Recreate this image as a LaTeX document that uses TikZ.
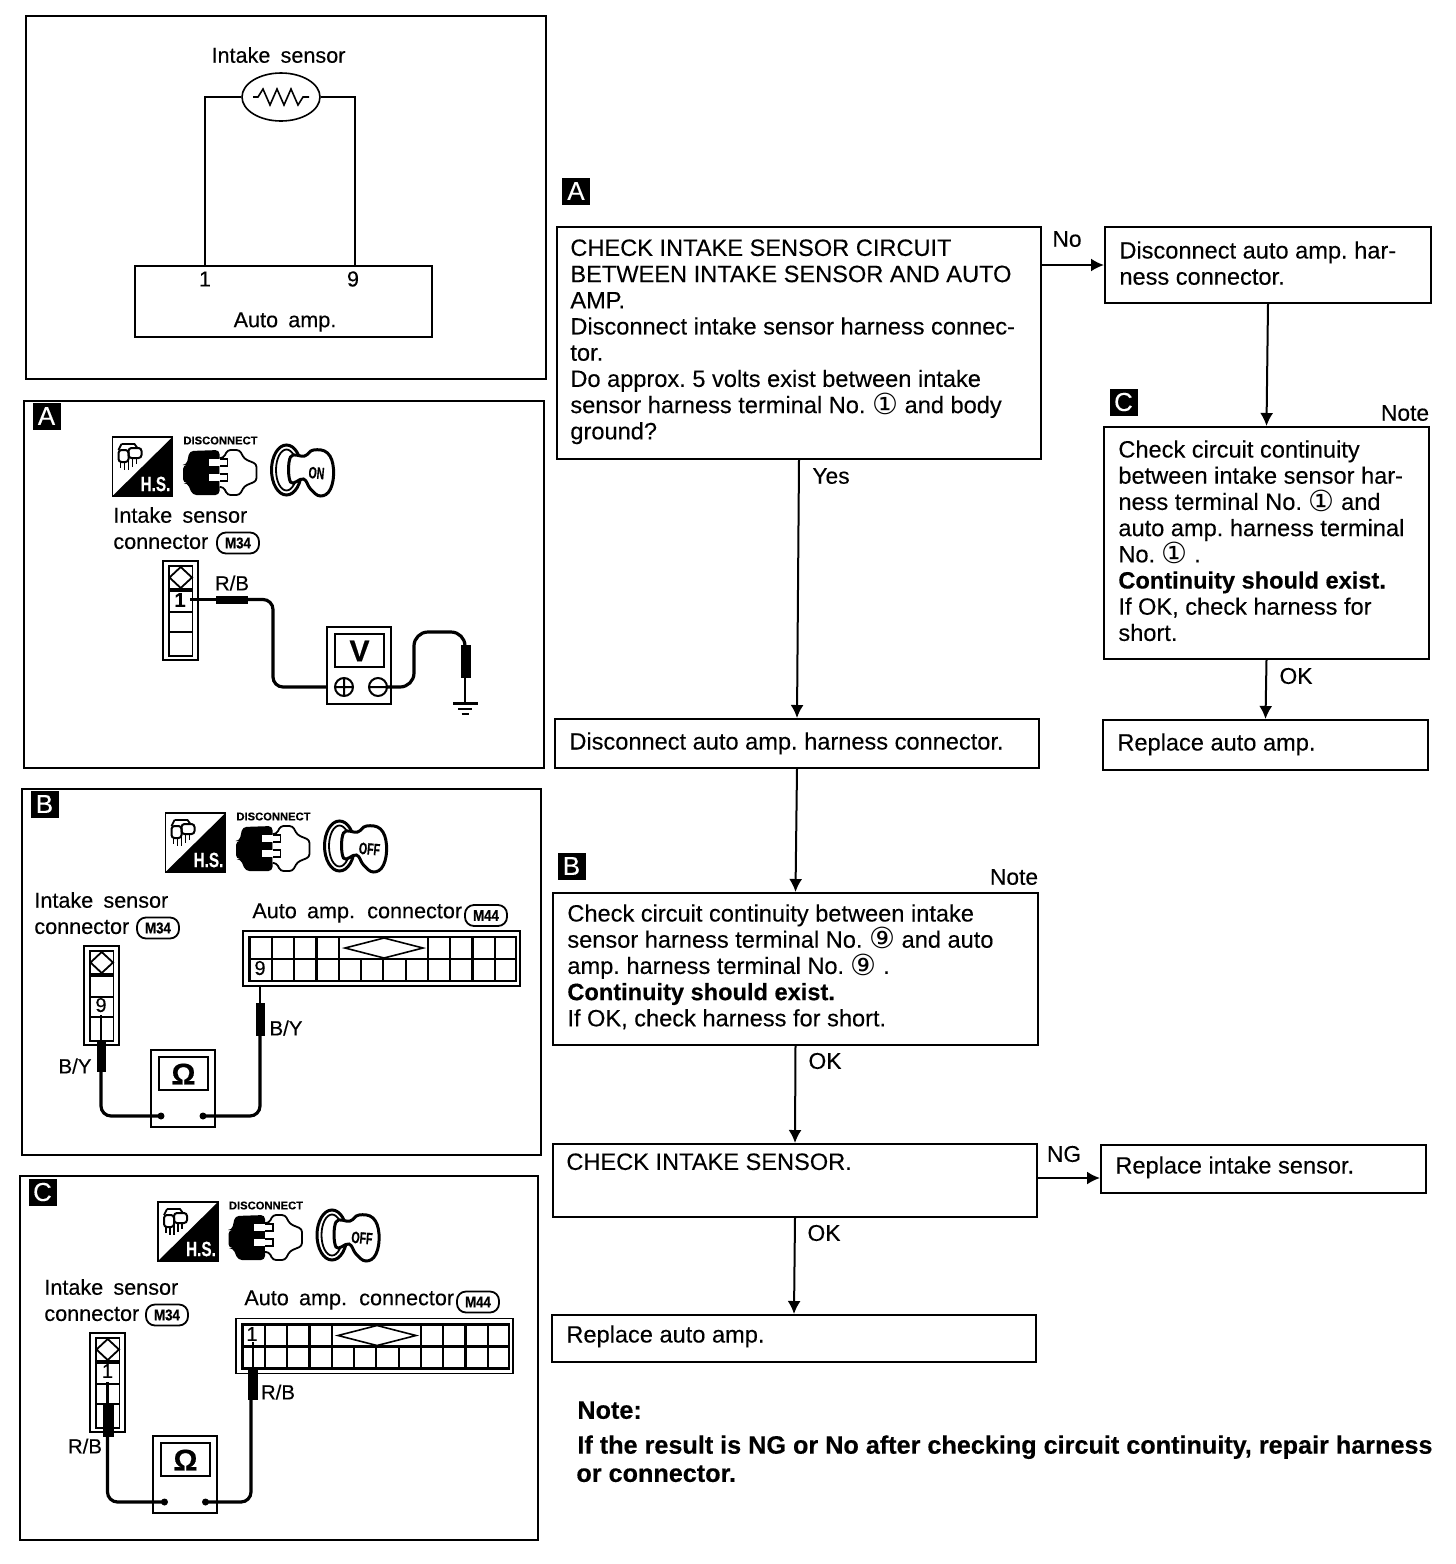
\documentclass[tikz,border=0pt]{standalone}
\usepackage{fontspec}
\usepackage{graphicx}
\usetikzlibrary{arrows.meta,fit,shapes.geometric}
\setmainfont{Liberation Sans}[UprightFeatures={FakeBold=0.2},BoldFeatures={FakeBold=0.4}]
\newfontfamily\circfont{DejaVu Sans}
\newfontfamily\widefont[WordSpace=1.7,FakeBold=0.3]{Liberation Sans}
\newcommand{\cn}[1]{{\circfont\fontsize{14.5}{13}\selectfont\raisebox{-.6pt}{#1}}}
\tikzset{
  flowbox/.style={draw,line width=1pt,inner sep=0pt,fit={#1}},
  panel/.style={draw,line width=1.1pt,inner sep=0pt,fit={#1}},
  ftext/.style={inner sep=0pt,anchor=north west,align=left,font=\fontsize{11.8}{13.1}\selectfont\frenchspacing},
  flab/.style={inner sep=0pt,font=\fontsize{11.4}{13.1}\selectfont},
  lbl/.style={inner sep=0pt,font=\fontsize{10.8}{12}\selectfont\widefont},
  wlab/.style={inner sep=0pt,font=\fontsize{10.2}{11}\selectfont},
  tag/.style={fill=black,text=white,inner sep=0pt,minimum width=14pt,minimum height=13.5pt,font=\fontsize{13}{13}\selectfont},
  badge/.style={draw,line width=.9pt,rounded corners=4.5pt,inner sep=0pt,minimum width=21pt,minimum height=10.5pt,font=\fontsize{7.8}{8}\selectfont\bfseries},
  arr/.style={line width=1pt,-{Latex[length=6.5pt,width=6.5pt]}},
  wire/.style={line width=1.6pt,rounded corners=5pt},
  thinw/.style={line width=1.2pt},
  pics/icons/.style={code={
    \draw[line width=.9pt] (0,0) rectangle (60,59);
    \fill (60,0) -- (60,59) -- (0,59) -- cycle;
    \node[text=white,inner sep=0pt,font=\fontsize{9}{9}\selectfont\bfseries] at (43,47) {\scalebox{.85}[1.15]{H.S.}};
    \draw[line width=1pt,rounded corners=1.5pt] (6,13) rectangle (16,25);
    \draw[line width=1pt,rounded corners=1.5pt] (16,11) rectangle (29,21);
    \draw[line width=.9pt] (9,7) -- (22,7) -- (25,11) (9,7) -- (6,13);
    \draw[line width=.7pt] (8,25) -- (8,31) (12,25) -- (12,33) (16,21) -- (16,33) (20,21) -- (20,30) (24,21) -- (24,27);
    \node[inner sep=0pt,font=\fontsize{5.6}{6}\selectfont\bfseries] at (108,3.5) {DISCONNECT};
    \fill[rounded corners=2pt] (70.5,28) -- (74,28) -- (77,14) -- (107,13) -- (107,58) -- (80,58) -- (75,46) -- (70.5,46) -- cycle;
    \draw[line width=.9pt,fill=white,rounded corners=1.5pt] (107,21) -- (111,21) -- (115,13) -- (127,13) -- (132,22) -- (144,27) -- (144,44) -- (132,49) -- (127,58) -- (115,58) -- (111,50) -- (107,50);
    \fill[white] (96,22) rectangle (107,29);
    \fill[white] (96,37) rectangle (107,44);
    \draw[line width=.9pt] (107,22) -- (115,22) -- (115,29) -- (107,29) (107,37) -- (115,37) -- (115,44) -- (107,44);
    \draw[line width=1.5pt] (174,33) ellipse [x radius=15,y radius=25];
    \draw[line width=.9pt] (174,33) ellipse [x radius=10.5,y radius=20.5];
    \draw[line width=1.5pt,fill=white] plot[smooth cycle,tension=.7] coordinates {(178,20) (192,19) (201,13) (215,16) (221,32) (218,52) (208,59) (198,52) (191,42) (178,45)};
    \node[inner sep=0pt,font=\fontsize{7.5}{8}\selectfont\bfseries,rotate=-5] at (204,36) {\scalebox{.7}[1.1]{#1}};
  }},
  pics/sensorconn/.style={code={
    \draw[line width=.9pt] (0,0) rectangle (35,99);
    \draw[line width=.9pt] (6,5) rectangle (29.5,95);
    \draw[line width=.9pt] (6,28) -- (29.5,28) (6,30) -- (29.5,30) (6,51) -- (29.5,51) (6,71) -- (29.5,71);
    \draw[line width=.9pt] (17.7,6) -- (29,16.5) -- (17.7,27) -- (6.5,16.5) -- cycle;
  }},
  pics/ampconn/.style={code={
    \draw[line width=.9pt] (0,0) rectangle (277,55);
    \draw[line width=1.1pt] (6.5,6) rectangle (273,50);
    \draw[line width=1.1pt] (6.5,28) -- (273,28);
    \foreach \x in {28.8,51.1,73.4,95.7,184.9,207.2,229.5,251.8} \draw[line width=1.1pt] (\x,6) -- (\x,50);
    \foreach \x in {118,140.3,162.6} \draw[line width=1.1pt] (\x,28) -- (\x,50);
    \draw[line width=.8pt,fill=white] (102,17) -- (141,7) -- (180,17) -- (141,27) -- cycle;
  }},
  pics/meter/.style={code={
    \draw[line width=1.1pt,fill=white] (0,0) rectangle (64,77);
    \draw[line width=1.1pt] (8,7) rectangle (57,40);
    \node[inner sep=0pt,font=\fontsize{15}{15}\selectfont\bfseries] at (32.5,24) {#1};
  }},
}
\begin{document}
\begin{tikzpicture}[x=.5pt,y=-.5pt]
\useasboundingbox (0,0) rectangle (1456,1564);
\fill[white] (0,0) rectangle (1456,1564);

% ---------- circuit panel
\node[panel={(26,16)(546,379)}] (p0) {};
\node[lbl] (sensname) at (278.5,55) {Intake sensor};
\node[draw,ellipse,line width=.8pt,minimum width=39pt,minimum height=24pt,inner sep=0pt] (sens) at (281,97) {};
\node[draw,line width=.8pt,inner sep=0pt,fit={(135,266)(432,337)}] (amp) {};
\coordinate (t1) at (205,266);
\coordinate (t9) at (355,266);
\draw[line width=.8pt] (sens.west) -| (t1);
\draw[line width=.8pt] (sens.east) -| (t9);
\draw[line width=.8pt] (253,97) -- (258,97) -- (263,89) -- (270,105) -- (277,89) -- (284,105) -- (291,89) -- (298,105) -- (303,97) -- (309,97);
\node[lbl] (n1) at (205,279) {1};
\node[lbl] (n9) at (353,279) {9};
\node[lbl] (ampname) at (285,322) {Auto amp.};

% ---------- panel A
\node[panel={(24,401)(544,768)}] (pa) {};
\node[tag] (ta) at (46.5,416) {A};
\pic (ia) at (112.5,437) {icons=ON};
\node[lbl,anchor=west] (al1) at (113,515) {Intake sensor};
\node[lbl,anchor=west] (al2) at (113,542) {connector};
\node[badge] (am34) at (238,543) {\scalebox{.85}[1]{M34}};
\pic (sa) at (163,561) {sensorconn};
\node[font=\fontsize{10}{10}\selectfont\bfseries,inner sep=0pt] (a1) at (180,600) {1};
\draw[thinw] (190,599.5) -- (216,599.5);
\fill (216,595.5) rectangle (248,604);
\draw[wire] (248,599.5) -- (273,599.5) -- (273,687) -- (335,687);
\pic (ma) at (327,627) {meter=V};
\draw[line width=1pt] (344,687) circle [radius=9] (335,687) -- (353,687) (344,678) -- (344,696);
\draw[line width=1pt] (378,687) circle [radius=9] (369,687) -- (387,687);
\draw[wire,rounded corners=7pt] (387,687) -- (414,687) -- (414,632) -- (465,632) -- (465,650);
\fill (461,645) rectangle (471,678);
\draw[thinw] (465,678) -- (465,703);
\draw[line width=1.1pt] (453,703.5) -- (478,703.5);
\draw[line width=1.2pt] (458,709) -- (472,709);
\draw[line width=1.2pt] (461.5,714) -- (469,714);
\node[wlab] (arb) at (232,583) {R/B};

% ---------- panel B
\node[panel={(22,789)(541,1155)}] (pb) {};
\node[tag] (tb) at (44.5,804) {B};
\pic (ib) at (165.5,813) {icons=OFF};
\node[lbl,anchor=west] (bl1) at (34,900) {Intake sensor};
\node[lbl,anchor=west] (bl2) at (34,927) {connector};
\node[badge] (bm34) at (158,928) {\scalebox{.85}[1]{M34}};
\node[lbl,anchor=west] (bl3) at (252,913) {Auto amp. connector};
\node[badge] (bm44) at (486,915.5) {\scalebox{.85}[1]{M44}};
\pic (sb) at (84,946) {sensorconn};
\node[font=\fontsize{10}{10}\selectfont,inner sep=0pt] (b9) at (101,1005) {9};
\pic (cb) at (243,931) {ampconn};
\node[font=\fontsize{10}{10}\selectfont,inner sep=0pt] (b9r) at (260,968) {9};
\pic (mb) at (151,1050) {meter={Ω}};
\draw[thinw] (101,1015) -- (101,1042);
\fill (97,1042) rectangle (105.5,1072);
\draw[wire] (101,1072) -- (101,1116) -- (161,1116);
\fill (161,1116) circle [radius=3.5];
\fill (203,1116) circle [radius=3.5];
\draw[wire] (203,1116) -- (260,1116) -- (260,1036);
\fill (256,1003) rectangle (265,1036);
\draw[thinw] (260,1003) -- (260,985);
\node[wlab] (bby1) at (75,1066) {B/Y};
\node[wlab] (bby2) at (286,1028) {B/Y};

% ---------- panel C
\node[panel={(20,1176)(538,1540)}] (pc) {};
\node[tag] (tc) at (42.5,1192) {C};
\pic (ic) at (158,1202) {icons=OFF};
\node[lbl,anchor=west] (cl1) at (44,1287) {Intake sensor};
\node[lbl,anchor=west] (cl2) at (44,1314) {connector};
\node[badge] (cm34) at (167,1315) {\scalebox{.85}[1]{M34}};
\node[lbl,anchor=west] (cl3) at (244,1300) {Auto amp. connector};
\node[badge] (cm44) at (478,1302) {\scalebox{.85}[1]{M44}};
\pic (sc) at (90,1333) {sensorconn};
\node[font=\fontsize{10}{10}\selectfont,inner sep=0pt] (c1) at (107.5,1371) {1};
\pic (cc) at (236,1318.5) {ampconn};
\node[font=\fontsize{10}{10}\selectfont,inner sep=0pt] (c1r) at (252,1334) {1};
\pic (mc) at (153,1436) {meter={Ω}};
\draw[thinw] (107.5,1382) -- (107.5,1405);
\fill (103,1405) rectangle (113.5,1437);
\draw[wire] (107.5,1437) -- (107.5,1502) -- (164.5,1502);
\fill (164.5,1502) circle [radius=3.5];
\fill (205.5,1502) circle [radius=3.5];
\draw[wire] (205.5,1502) -- (251,1502) -- (251,1400);
\fill (248,1368) rectangle (258,1400);
\draw[thinw] (253,1368) -- (253,1342);
\node[wlab] (crb1) at (85,1446) {R/B};
\node[wlab] (crb2) at (278,1392) {R/B};

% ---------- flow chart
\node[tag] (fa) at (576,191) {A};
\node[flowbox={(557,227)(1041,459)}] (b1) {};
\node[ftext] (b1t) at (570,239) {CHECK INTAKE SENSOR CIRCUIT\\BETWEEN INTAKE SENSOR AND AUTO\\AMP.\\Disconnect intake sensor harness connec-\\tor.\\Do approx. 5 volts exist between intake\\sensor harness terminal No. \cn{①}\ and body\\ground?};
\node[flowbox={(1105,227)(1431,303)}] (b2) {};
\node[ftext] (b2t) at (1119,241) {Disconnect auto amp. har-\\ness connector.};
\node[tag] (fc) at (1123.5,402) {C};
\node[flab] (nc) at (1405,413) {Note};
\node[flowbox={(1104,427)(1429,659)}] (b3) {};
\node[ftext] (b3t) at (1118,440) {Check circuit continuity\\between intake sensor har-\\ness terminal No. \cn{①}\ and\\auto amp. harness terminal\\No. \cn{①} .\\\textbf{Continuity should exist.}\\If OK, check harness for\\short.};
\node[flowbox={(1103,720)(1428,770)}] (b4) {};
\node[ftext] (b4t) at (1117,733) {Replace auto amp.};
\node[flowbox={(555,719)(1039,768)}] (b5) {};
\node[ftext] (b5t) at (569,732) {Disconnect auto amp. harness connector.};
\node[tag] (fb) at (571.5,866) {B};
\node[flab] (nb) at (1014,877) {Note};
\node[flowbox={(553,893)(1038,1045)}] (b6) {};
\node[ftext] (b6t) at (567,904) {Check circuit continuity between intake\\sensor harness terminal No. \cn{⑨}\ and auto\\amp. harness terminal No. \cn{⑨} .\\\textbf{Continuity should exist.}\\If OK, check harness for short.};
\node[flowbox={(553,1144)(1037,1217)}] (b7) {};
\node[ftext] (b7t) at (566,1153) {CHECK INTAKE SENSOR.};
\node[flowbox={(1101,1145)(1426,1193)}] (b8) {};
\node[ftext] (b8t) at (1115,1156) {Replace intake sensor.};
\node[flowbox={(552,1315)(1036,1362)}] (b9) {};
\node[ftext] (b9t) at (566,1325) {Replace auto amp.};

\draw[arr] (b1.east |- b2.west) -- (b2.west);
\node[flab] (lno) at (1067,239) {No};
\draw[arr] (b2.south) -- (b3.north);
\draw[arr] (b3.south) -- (b4.north);
\node[flab] (lok1) at (1296,676) {OK};
\draw[arr] (b1.south) -- (b5.north);
\node[flab] (lyes) at (831,476) {Yes};
\draw[arr] (b5.south) -- (b6.north);
\draw[arr] (b6.south) -- (b7.north);
\node[flab] (lok2) at (825,1061) {OK};
\coordinate (ngy) at (1070,1178);
\draw[arr] (b7.east |- ngy) -- (b8.west |- ngy);
\node[flab] (lng) at (1064,1154) {NG};
\draw[arr] (b7.south) -- (b9.north);
\node[flab] (lok3) at (824,1233) {OK};

\node[ftext,font=\fontsize{12.6}{13}\selectfont\bfseries] (note1) at (577,1401) {Note:};
\node[ftext,font=\fontsize{12.6}{13}\selectfont\bfseries] (note2) at (577,1435) {If the result is NG or No after checking circuit continuity, repair harness};
\node[ftext,font=\fontsize{12.6}{13}\selectfont\bfseries] (note3) at (576,1465) {or connector.};
\end{tikzpicture}
\end{document}
